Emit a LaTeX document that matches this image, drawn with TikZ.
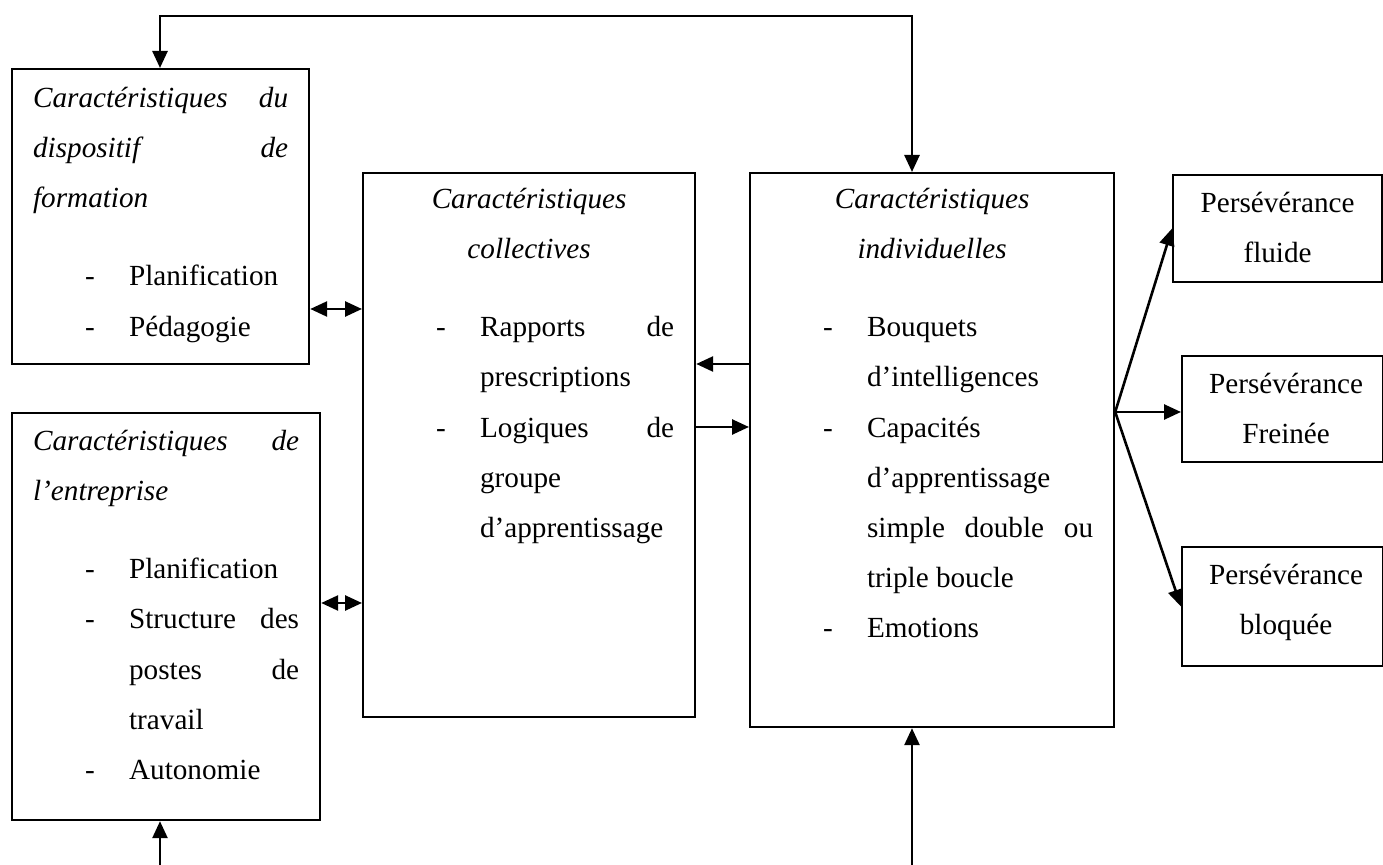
\documentclass[tikz,border=0pt]{standalone}
\usepackage{fontspec}
\setmainfont{Liberation Serif}
\usepackage{tikz}
\usetikzlibrary{arrows.meta}

% lignes de texte dans les cadres
\newcommand{\ligne}[1]{\hbox to\hsize{\strut#1\hfil}}
\newcommand{\milieu}[1]{\hbox to\hsize{\strut\hfil#1\hfil}}
\newcommand{\puce}[1]{\hbox to\hsize{\strut\hskip26pt\hbox to22pt{-\hss}#1\hfil}}
\newcommand{\suite}[1]{\hbox to\hsize{\strut\hskip48pt#1\hfil}}
\newcommand{\cadre}[3]{\vbox to#2{\hsize=#1\relax#3\vss}}

\tikzset{
  boite/.style={draw, line width=1.1pt, anchor=north west, inner xsep=10.5pt, inner ysep=0pt},
  issue/.style={boite, inner xsep=0pt},
  fleche/.style={->, line width=1.3pt},
}

\begin{document}
\begin{tikzpicture}[x=0.5pt, y=-0.5pt, >={Triangle[length=8.5pt,width=7.5pt]},
    font=\fontsize{14.6}{25.1}\selectfont]
  \useasboundingbox (0,0) rectangle (1383,865);

  % Dispositif de formation
  \node[boite] (disp) at (11,68) {\cadre{127.5pt}{147.5pt}{\vskip1.5pt
    \ligne{\textit{Caractéristiques}\hfill\textit{du}}
    \ligne{\textit{dispositif}\hfill\textit{de}}
    \ligne{\textit{formation}}
    \vskip14pt
    \puce{Planification}
    \puce{Pédagogie}}};

  % Entreprise
  \node[boite] (entr) at (11,412) {\cadre{133pt}{203.5pt}{\vskip1pt
    \ligne{\textit{Caractéristiques}\hfill\textit{de}}
    \ligne{\textit{l’entreprise}}
    \vskip14pt
    \puce{Planification}
    \puce{Structure\hfill des}
    \suite{postes\hfill de}
    \suite{travail}
    \puce{Autonomie}}};

  % Collectif
  \node[boite] (coll) at (362,172) {\cadre{145pt}{272pt}{
    \milieu{\textit{Caractéristiques}}
    \milieu{\textit{collectives}}
    \vskip14pt
    \puce{Rapports\hfill de}
    \suite{prescriptions}
    \puce{Logiques\hfill de}
    \suite{groupe}
    \suite{d’apprentissage}}};

  % Individuel
  \node[boite] (indiv) at (749,172) {\cadre{161pt}{277pt}{
    \milieu{\textit{Caractéristiques}}
    \milieu{\textit{individuelles}}
    \vskip14pt
    \puce{Bouquets}
    \suite{d’intelligences}
    \puce{Capacités}
    \suite{d’apprentissage}
    \suite{simple\hfill double\hfill ou}
    \suite{triple boucle}
    \puce{Emotions}}};

  % Persévérances
  \node[issue] (pfluide) at (1172,174) {\cadre{104.5pt}{53.5pt}{\vskip1.2pt
    \milieu{Persévérance}\milieu{fluide}}};
  \node[issue] (pfrein) at (1181,355) {\cadre{100.5pt}{53pt}{\vskip1.2pt
    \milieu{\hskip3.5pt Persévérance}\milieu{\hskip3.5pt Freinée}}};
  \node[issue] (pbloq) at (1181,546) {\cadre{100.5pt}{59.5pt}{\vskip1pt
    \milieu{\hskip3.5pt Persévérance}\milieu{\hskip3.5pt bloquée}}};

  % Liaisons
  \coordinate (hautG) at (160,16);
  \coordinate (hautD) at (912,16);
  \coordinate (basG) at (160,865);
  \coordinate (basD) at (912,865);
  \coordinate (lienA) at (335,309);
  \coordinate (lienB) at (335,603);
  \coordinate (lienC) at (720,364);
  \coordinate (lienD) at (720,427);
  \path (indiv.north east) ++(0,240) coordinate (eventail);

  \draw[fleche, <->] (hautG |- disp.north) -- (hautG) -- (hautD) -- (hautD |- indiv.north);
  \draw[fleche] (basG) -- (basG |- entr.south);
  \draw[fleche] (basD) -- (basD |- indiv.south);
  \draw[fleche, <->] (disp.east |- lienA) -- (coll.west |- lienA);
  \draw[fleche, <->] (entr.east |- lienB) -- (coll.west |- lienB);
  \draw[fleche] (indiv.west |- lienC) -- (coll.east |- lienC);
  \draw[fleche] (coll.east |- lienD) -- (indiv.west |- lienD);
  \draw[fleche] (eventail) -- (pfluide.west);
  \draw[fleche] (eventail) -- (eventail -| pfrein.west);
  \draw[fleche] (eventail) -- (pbloq.west);
\end{tikzpicture}
\end{document}
